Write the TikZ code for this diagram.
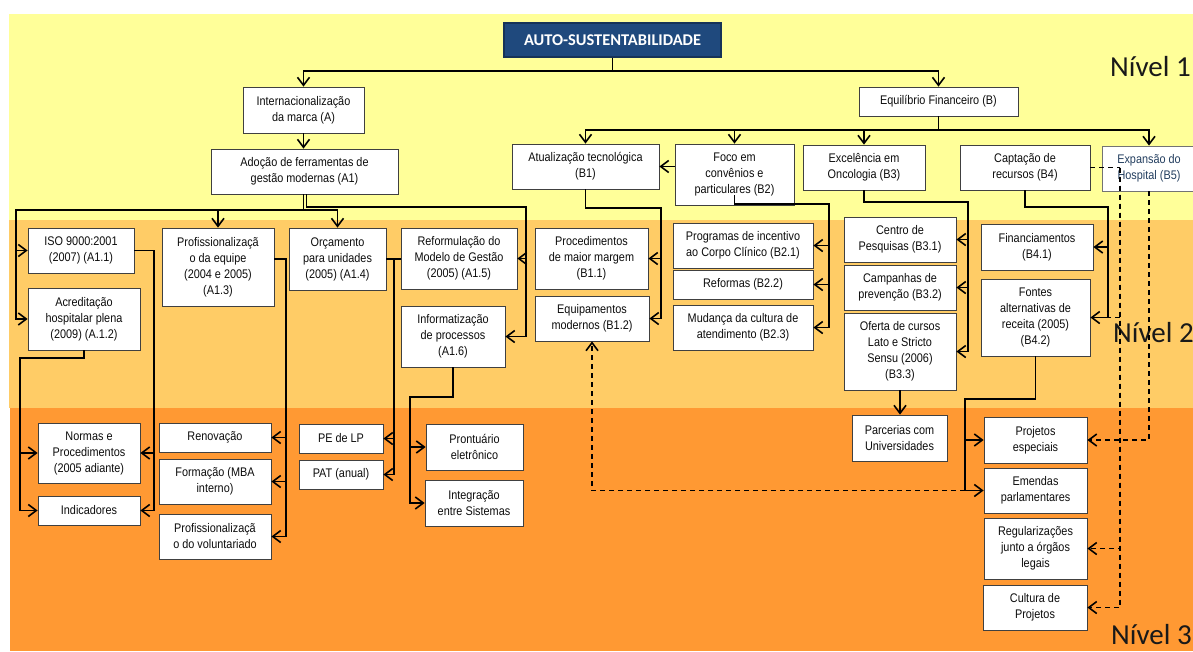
\documentclass[tikz,border=0pt]{standalone}
\usepackage{fontspec}
\usetikzlibrary{arrows.meta}
\newfontfamily\boxfont{Liberation Sans}[FakeStretch=0.87]
\newfontfamily\califont{Carlito}
\definecolor{bandA}{HTML}{FFFF99}
\definecolor{bandB}{HTML}{FFCC66}
\definecolor{bandC}{HTML}{FF9933}
\definecolor{navy}{HTML}{1F497D}
\definecolor{slate}{HTML}{243F60}

\begin{document}
\begin{tikzpicture}[x=1pt,y=-1pt,
  box/.style={draw=black!75, line width=0.8pt, fill=white, align=center, inner sep=0pt,
    font=\boxfont\fontsize{12.5}{16}\selectfont, text=black!95},
  sz/.style 2 args={minimum width=#1pt, minimum height=#2pt},
  plain/.style={line width=1.6pt},
  link/.style={line width=1.6pt, -{Straight Barb[length=8pt,width=12pt]}},
  dsh/.style={dash pattern=on 5pt off 4pt},
  level/.style={anchor=base west, inner sep=0pt, text=black!90,
    font=\califont\fontsize{29}{30}\selectfont}
]
\useasboundingbox (0,0) rectangle (1193,651);

% background bands
\fill[white] (0,0) rectangle (1193,651);
\fill[bandA] (9,14) rectangle (1193,220);
\fill[bandB] (9,220) rectangle (1193,408);
\fill[bandC] (10,408) rectangle (1193,651);

% level labels
\node[level] (n1) at (1110,76) {Nível 1};
\node[level] (n2) at (1113,342) {Nível 2};
\node[level] (n3) at (1111,644) {Nível 3};

% level 1
\node[box,sz={217}{34},fill=navy,draw=navy!70!black,line width=1.2pt,text=white,
  font=\califont\bfseries\fontsize{16.4}{18}\selectfont] (top) at (612.5,40) {AUTO-SUSTENTABILIDADE};
\node[box,sz={121}{46}] (A) at (303.5,110) {Internacionalização\\da marca  (A)};
\node[box,sz={187}{45}] (A1) at (304.5,171.5) {Adoção de ferramentas de\\gestão modernas (A1)};
\node[box,sz={159}{29}] (B) at (938.5,101.5) {Equilíbrio Financeiro (B)};
\node[box,sz={147}{45}] (B1) at (585.5,166.5) {Atualização tecnológica\\(B1)};
\node[box,sz={119}{61}] (B2) at (734.5,174.5) {Foco em\\convênios e\\particulares (B2)};
\node[box,sz={122}{45}] (B3) at (864,167.5) {Excelência em\\Oncologia  (B3)};
\node[box,sz={130}{45}] (B4) at (1025,167.5) {Captação de\\recursos (B4)};
\node[box,sz={94}{45},text=slate,draw=black!55] (B5) at (1149,168.5) {Expansão do\\Hospital (B5)};

% level 2
\node[box,sz={106}{45}] (A11) at (81,250.5) {ISO 9000:2001\\(2007) (A1.1)};
\node[box,sz={112}{62}] (A12) at (84,319) {Acreditação\\hospitalar plena\\(2009) (A.1.2)};
\node[box,sz={112}{78}] (A13) at (218,267) {Profissionalizaçã\\o da equipe\\(2004 e 2005)\\(A1.3)};
\node[box,sz={97}{62}] (A14) at (337.5,259) {Orçamento\\para unidades\\(2005) (A1.4)};
\node[box,sz={116}{61}] (A15) at (459,258.5) {Reformulação do\\Modelo de Gestão\\(2005) (A1.5)};
\node[box,sz={104}{61}] (A16) at (453,336.5) {Informatização\\de processos\\(A1.6)};
\node[box,sz={113}{61}] (B11) at (591.5,258.5) {Procedimentos\\de maior margem\\(B1.1)};
\node[box,sz={114}{45}] (B12) at (592,318.5) {Equipamentos\\modernos (B1.2)};
\node[box,sz={140}{45}] (B21) at (743,245.5) {Programas de incentivo\\ao Corpo Clínico (B2.1)};
\node[box,sz={140}{29}] (B22) at (743,284.5) {Reformas (B2.2)};
\node[box,sz={140}{45}] (B23) at (743,327.5) {Mudança da cultura de\\atendimento (B2.3)};
\node[box,sz={112}{45}] (B31) at (900,239.5) {Centro de\\Pesquisas (B3.1)};
\node[box,sz={112}{45}] (B32) at (900,287.5) {Campanhas de\\prevenção (B3.2)};
\node[box,sz={112}{77}] (B33) at (900,351.5) {Oferta de cursos\\Lato e Stricto\\Sensu (2006)\\(B3.3)};
\node[box,sz={112}{46}] (B41) at (1037,247) {Financiamentos\\(B4.1)};
\node[box,sz={109}{77}] (B42) at (1035.5,317.5) {Fontes\\alternativas de\\receita  (2005)\\(B4.2)};

% level 3
\node[box,sz={102}{60}] (Normas) at (89,453) {Normas e\\Procedimentos\\(2005 adiante)};
\node[box,sz={102}{29}] (Indic) at (89,510.5) {Indicadores};
\node[box,sz={112}{29}] (Renov) at (215,437.5) {Renovação};
\node[box,sz={112}{45}] (Form) at (215,481.5) {Formação (MBA\\interno)};
\node[box,sz={112}{45}] (ProfVol) at (215,536.5) {Profissionalizaçã\\o do voluntariado};
\node[box,sz={84}{29}] (PE) at (341,438.5) {PE de LP};
\node[box,sz={84}{29}] (PAT) at (341,474.5) {PAT (anual)};
\node[box,sz={97}{46}] (Pront) at (474.5,447) {Prontuário\\eletrônico};
\node[box,sz={98}{46}] (Integ) at (474,503) {Integração\\entre Sistemas};
\node[box,sz={95}{46}] (Parc) at (899.5,438) {Parcerias com\\Universidades};
\node[box,sz={103}{46}] (ProjEsp) at (1035.5,440) {Projetos\\especiais};
\node[box,sz={103}{45}] (Emendas) at (1035.5,490.5) {Emendas\\parlamentares};
\node[box,sz={103}{61}] (Regul) at (1035.5,548.5) {Regularizações\\junto a órgãos\\legais};
\node[box,sz={104}{45}] (Cultura) at (1035,607.5) {Cultura de\\Projetos};

% junction points
\coordinate (j0) at (612.5,71);
\coordinate (jA) at (303.5,210);
\coordinate (cA) at (16,210);
\coordinate (cB) at (526,207);
\coordinate (cC) at (154,250.5);
\coordinate (cD) at (20,358);
\coordinate (cE) at (286,259);
\coordinate (cF) at (394,259);
\coordinate (cG) at (410,397);
\coordinate (jB) at (938.5,130);
\coordinate (cH) at (661,208);
\coordinate (cI) at (829,204);
\coordinate (cJ) at (968,202);
\coordinate (cK) at (1108,207);
\coordinate (cL) at (965,399);
\coordinate (cM) at (1120,167.5);

% top level
\draw[plain] (top.south) -- (j0);
\draw[link] (j0) -| (A.north);
\draw[link] (j0) -| (B.north);
\draw[link] (A.south) -- (A.south |- A1.north);

% branch A1
\draw[plain] (A1.south -| jA) -- (jA);
\draw[link] (jA) -- (cA) |- (A11.west);
\draw[link] (cA) |- (A12.west);
\draw[plain] (jA) -- (A14.north |- jA);
\draw[link] (A13.north |- jA) -- (A13.north);
\draw[link] (A14.north |- jA) -- (A14.north);
\draw[link] ([xshift=2pt]A1.south) |- (cB) |- (A15.east);
\draw[link] (cB) |- (A16.east);

\draw[link] (A11.east) -- (cC) |- (Normas.east);
\draw[link] (cC) |- (Indic.east);
\draw[link] (A12.south) |- (cD) |- (Normas.west);
\draw[link] (cD) |- (Indic.west);
\draw[link] ([yshift=8pt]A13.east) -- (cE) |- (Renov.east);
\draw[link] (cE) |- (Form.east);
\draw[link] (cE) |- (ProfVol.east);
\draw[plain] (A14.east) -- (A14.east -| A15.west);
\draw[link] (cF) |- (PE.east);
\draw[link] (cF) |- (PAT.east);
\draw[link] (A16.south) |- (cG) |- (Pront.west);
\draw[link] (cG) |- (Integ.west);

% branch B
\draw[plain] (B.south) -- (jB);
\draw[link] (jB) -| (B1.north);
\draw[link] (jB) -| (B2.north);
\draw[link] (jB) -| (B3.north);
\draw[link] (jB) -| (B5.north);
\draw[link] (B2.west |- B1.east) -- (B1.east);

\draw[link] (B1.south) |- (cH) |- (B11.east);
\draw[link] (cH) |- (B12.east);
\draw[link] ([yshift=10pt]B2.south) |- (cI) |- (B21.east);
\draw[link] (cI) |- (B22.east);
\draw[link] (cI) |- (B23.east);
\draw[link] (B3.south) |- (cJ) |- (B31.east);
\draw[link] (cJ) |- (B32.east);
\draw[link] (cJ) |- (B33.east);
\draw[link] (B33.south) -- (B33.south |- Parc.north);
\draw[link] (B4.south) |- (cK) |- (B41.east);
\draw[link] (cK) |- (B42.east);
\draw[link] (B42.south) |- (cL) |- (ProjEsp.west);
\draw[link] (cL) |- (Emendas.west);

% dashed links
\draw[plain,dsh] (B4.east) -- (cM);
\draw[link,dsh] (cM) |- (Regul.east);
\draw[link,dsh] (cM) |- (Cultura.east);
\draw[plain,dsh] (cM |- B42.east) -- (cK |- B42.east);
\draw[link,dsh] (B5.south) |- (ProjEsp.east);
\draw[link,dsh] (cL |- Emendas.west) -| (B12.south);
\end{tikzpicture}
\end{document}
